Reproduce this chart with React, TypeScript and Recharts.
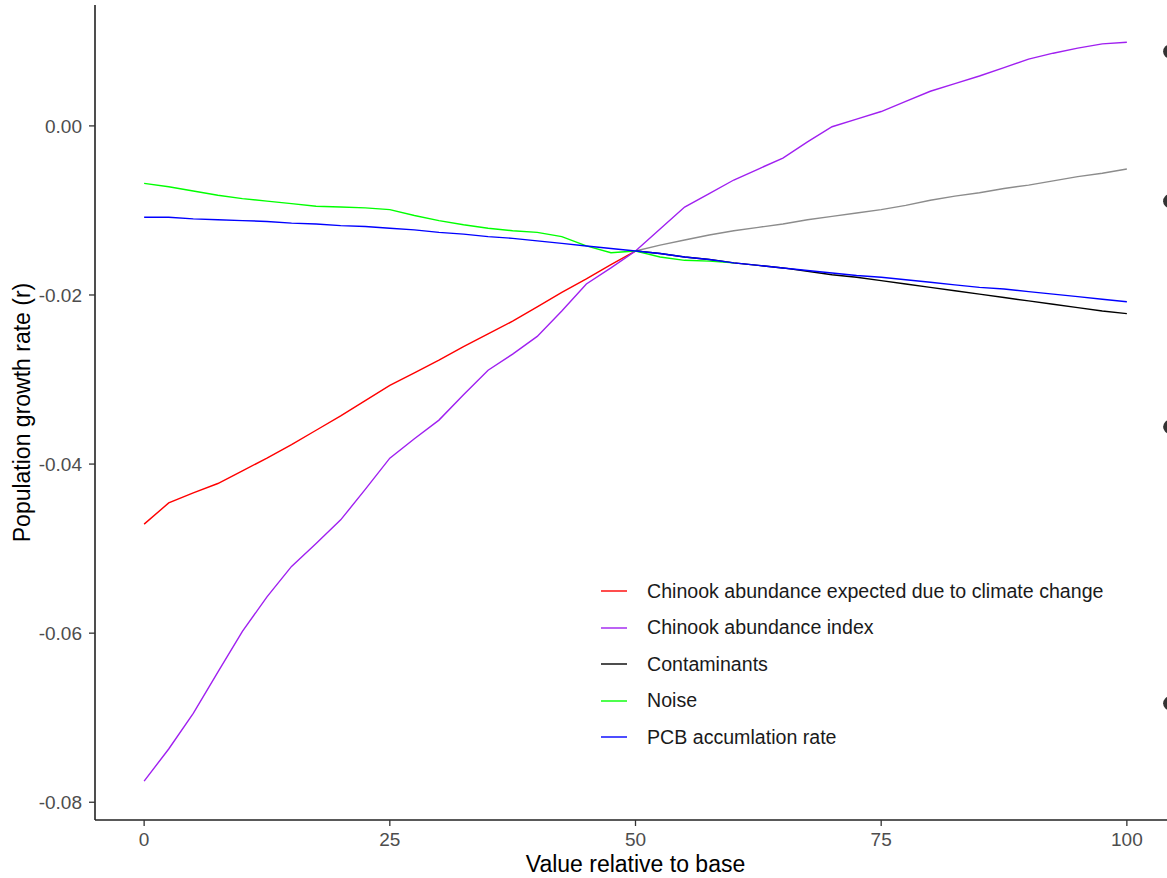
import React from 'react';
import { ComposedChart, Line, XAxis, YAxis, Label, ReferenceDot } from 'recharts';

const FONT = '"Liberation Sans", Arial, sans-serif';

// x grid (value relative to base), step 2.5
const X_VALUES = [
  0, 2.5, 5, 7.5, 10, 12.5, 15, 17.5, 20, 22.5, 25, 27.5, 30, 32.5, 35, 37.5, 40, 42.5, 45, 47.5,
  50, 52.5, 55, 57.5, 60, 62.5, 65, 67.5, 70, 72.5, 75, 77.5, 80, 82.5, 85, 87.5, 90, 92.5, 95, 97.5, 100,
];

// 0 .. 50
const CLIMATE = [
  -0.0471, -0.0446, -0.0434, -0.0423, -0.0408, -0.0393, -0.0377, -0.0360, -0.0343, -0.0325, -0.0307,
  -0.0292, -0.0277, -0.0261, -0.0246, -0.0231, -0.0214, -0.0197, -0.0181, -0.0164, -0.0148,
];

// 0 .. 100
const ABUNDANCE = [
  -0.0775, -0.0737, -0.0695, -0.0646, -0.0598, -0.0557, -0.0521, -0.0494, -0.0466, -0.0430, -0.0393,
  -0.0370, -0.0348, -0.0318, -0.0289, -0.0270, -0.0249, -0.0219, -0.0187, -0.0168, -0.0148,
  -0.0122, -0.0096, -0.0080, -0.0064, -0.0051, -0.0038, -0.0019, -0.0001, 0.0008, 0.0017,
  0.0029, 0.0041, 0.0050, 0.0059, 0.0069, 0.0079, 0.0086, 0.0092, 0.0097, 0.0099,
];

// 50 .. 100
const CONTAMINANTS = [
  -0.0148, -0.0151, -0.0155, -0.0158, -0.0162, -0.0165, -0.0168, -0.0172, -0.0176, -0.0179, -0.0183,
  -0.0187, -0.0191, -0.0195, -0.0199, -0.0203, -0.0207, -0.0211, -0.0215, -0.0219, -0.0222,
];

// 0 .. 60
const NOISE = [
  -0.0068, -0.0072, -0.0077, -0.0082, -0.0086, -0.0089, -0.0092, -0.0095, -0.0096, -0.0097, -0.0099,
  -0.0106, -0.0112, -0.0117, -0.0121, -0.0124, -0.0126, -0.0131, -0.0142, -0.0150, -0.0148,
  -0.0155, -0.0159, -0.0160, -0.0162,
];

// 0 .. 100
const PCB = [
  -0.0108, -0.0108, -0.0110, -0.0111, -0.0112, -0.0113, -0.0115, -0.0116, -0.0118, -0.0119, -0.0121,
  -0.0123, -0.0126, -0.0128, -0.0131, -0.0133, -0.0136, -0.0139, -0.0142, -0.0145, -0.0148,
  -0.0151, -0.0155, -0.0158, -0.0162, -0.0165, -0.0168, -0.0171, -0.0174, -0.0177, -0.0179,
  -0.0182, -0.0185, -0.0188, -0.0191, -0.0193, -0.0196, -0.0199, -0.0202, -0.0205, -0.0208,
];

// 50 .. 100, grey line without legend entry
const GREY = [
  -0.0148, -0.0141, -0.0135, -0.0129, -0.0124, -0.0120, -0.0116, -0.0111, -0.0107, -0.0103, -0.0099,
  -0.0094, -0.0088, -0.0083, -0.0079, -0.0074, -0.0070, -0.0065, -0.0060, -0.0056, -0.0051,
];

// cut-off markers at the right edge
const EDGE_DOT_X = 104.4;
const EDGE_DOT_Y = [0.0088, -0.0089, -0.0356, -0.0683];

const X_TICKS = [0, 25, 50, 75, 100];
const Y_TICKS = [-0.08, -0.06, -0.04, -0.02, 0];

const SERIES = [
  { key: 'climate', name: 'Chinook abundance expected due to climate change', color: '#FF0000', values: CLIMATE, start: 0 },
  { key: 'abundance', name: 'Chinook abundance index', color: '#A020F0', values: ABUNDANCE, start: 0 },
  { key: 'contaminants', name: 'Contaminants', color: '#000000', values: CONTAMINANTS, start: 20 },
  { key: 'noise', name: 'Noise', color: '#00FF00', values: NOISE, start: 0 },
  { key: 'pcb', name: 'PCB accumlation rate', color: '#0000FF', values: PCB, start: 0 },
];

const rows = X_VALUES.map((x, i) => {
  const row: Record<string, number | null> = { x, grey: i >= 20 ? GREY[i - 20] : null };
  SERIES.forEach(s => {
    const v = s.values[i - s.start];
    row[s.key] = v === undefined ? null : v;
  });
  return row;
});

const tickStyle = { fontSize: 19, fill: '#4D4D4D', fontFamily: FONT };

export default function App() {
  return (
    <div style={{ position: 'absolute', left: 0, top: 0, width: 1167, height: 878, overflow: 'hidden', background: '#fff' }}>
      <ComposedChart width={1190} height={878} data={rows} margin={{ top: 5, right: 14, bottom: 0, left: 0 }}>
        <XAxis
          type="number" dataKey="x" domain={[-5, 105]} ticks={X_TICKS} allowDataOverflow
          height={58} tickSize={6} tickMargin={7}
          axisLine={{ stroke: '#222', strokeWidth: 1.6 }} tickLine={{ stroke: '#333', strokeWidth: 1.3 }}
          tick={tickStyle}
        >
          <Label
            content={({ viewBox }: any) => (
              <text x={viewBox.x + viewBox.width / 2} y={viewBox.y + viewBox.height - 6}
                textAnchor="middle" fontSize={23} fontFamily={FONT} fill="#000">
                Value relative to base
              </text>
            )}
          />
        </XAxis>
        <YAxis
          type="number" domain={[-0.0821, 0.0143]} ticks={Y_TICKS} allowDataOverflow
          width={95} tickSize={6} tickMargin={7}
          tickFormatter={(v: number) => v.toFixed(2)}
          axisLine={{ stroke: '#222', strokeWidth: 1.6 }} tickLine={{ stroke: '#333', strokeWidth: 1.3 }}
          tick={tickStyle}
        >
          <Label
            content={({ viewBox }: any) => {
              const cx = 30;
              const cy = viewBox.y + viewBox.height / 2;
              return (
                <text x={cx} y={cy} transform={`rotate(-90 ${cx} ${cy})`}
                  textAnchor="middle" fontSize={23} fontFamily={FONT} fill="#000">
                  Population growth rate (r)
                </text>
              );
            }}
          />
        </YAxis>

        <Line dataKey="grey" stroke="#8C8C8C" strokeWidth={1.4} dot={false} legendType="none" isAnimationActive={false} />
        {SERIES.map(s => (
          <Line key={s.key} dataKey={s.key} name={s.name} stroke={s.color} strokeWidth={1.4}
            dot={false} activeDot={false} isAnimationActive={false} />
        ))}

        {EDGE_DOT_Y.map((y, i) => (
          <ReferenceDot key={i} x={EDGE_DOT_X} y={y} r={7} fill="#333" stroke="none" />
        ))}
      </ComposedChart>

      {/* legend inside the panel */}
      <div style={{ position: 'absolute', left: 601, top: 573, fontFamily: FONT, fontSize: 19.6, color: '#1a1a1a' }}>
        {SERIES.map(s => (
          <div key={s.key} style={{ display: 'flex', alignItems: 'center', height: 36.5 }}>
            <svg width={26} height={4} style={{ display: 'block' }}>
              <line x1={0} y1={2} x2={26} y2={2} stroke={s.color} strokeWidth={1.4} />
            </svg>
            <span style={{ marginLeft: 20, whiteSpace: 'nowrap' }}>{s.name}</span>
          </div>
        ))}
      </div>
    </div>
  );
}
